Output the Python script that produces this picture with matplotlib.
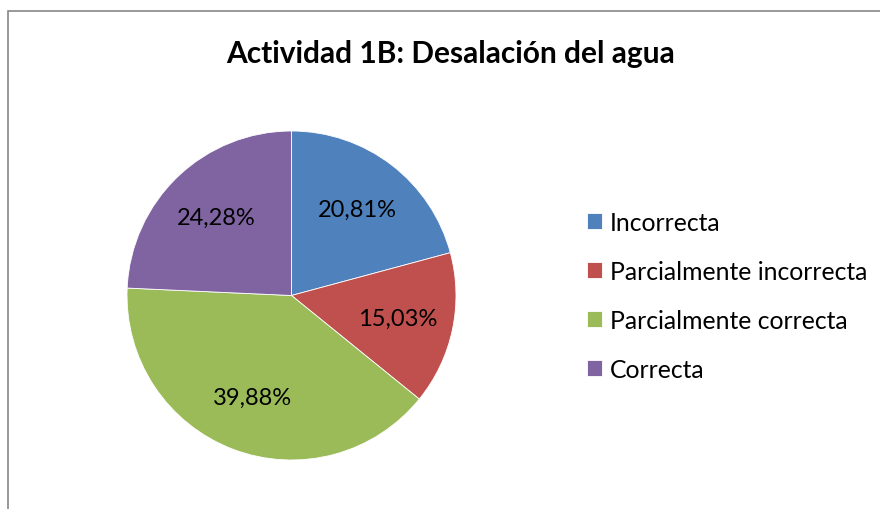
import matplotlib.pyplot as plt
from matplotlib.patches import Rectangle

plt.rcParams['font.family'] = ['Lato', 'DejaVu Sans']

categorias = ["Incorrecta", "Parcialmente incorrecta", "Parcialmente correcta", "Correcta"]
porcentajes = [20.81, 15.03, 39.88, 24.28]
colores = ["#4F81BD", "#C0504D", "#9BBB59", "#8064A2"]

W, H = 880, 510
fig = plt.figure(figsize=(8.8, 5.1), dpi=100)

# borde gris del área del gráfico
fig.patches.append(Rectangle((8 / W, -0.1), 1.0, (H - 12) / H + 0.1,
                             transform=fig.transFigure, fill=False,
                             edgecolor="#878787", linewidth=1.2))

# pie: centro (291, 296) px, radio ~164.5 px
cx, cy, r = 291.5, 296.5, 164.5
ax = fig.add_axes([(cx - r) / W, (H - cy - r) / H, 2 * r / W, 2 * r / H])
wedges, textos, pcts = ax.pie(
    porcentajes, colors=colores, startangle=90, counterclock=False,
    autopct=lambda p: f"{p:.2f}%".replace(".", ","), pctdistance=0.66,
    wedgeprops=dict(edgecolor="white", linewidth=0.6), radius=1.0)
for t in pcts:
    t.set_fontsize(17)
    t.set_color("black")
ax.set_xlim(-1, 1)
ax.set_ylim(-1, 1)
ax.set_aspect("equal")

fig.text(450.5 / W, 1 - 54 / H, "Actividad 1B: Desalación del agua",
         ha="center", va="center", fontsize=21.5, fontweight="bold")

fig.legend(wedges, categorias, loc="center left",
           bbox_to_anchor=(587 / W, 1 - 297 / H), frameon=False,
           fontsize=17.8, handlelength=0.62, handleheight=0.62,
           handletextpad=0.3, labelspacing=1.05, borderpad=0, borderaxespad=0)

fig.savefig("out.png", dpi=100)
